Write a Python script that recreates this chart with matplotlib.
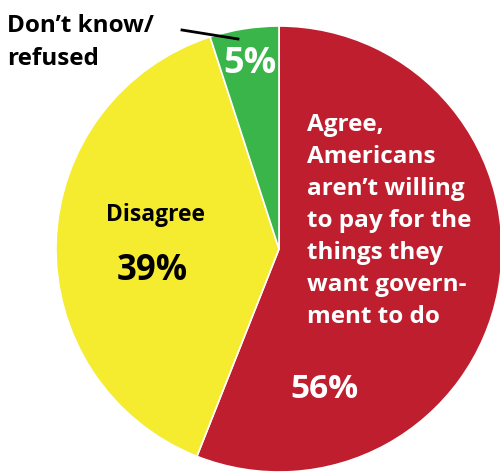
import matplotlib
matplotlib.use("Agg")
import matplotlib.pyplot as plt

# Survey responses
labels = ["Agree", "Disagree", "Don't know/refused"]
values = [56, 39, 5]
colors = ["#BE1E2D", "#F5EB2F", "#3AB54A"]

W, H = 500, 473
fig = plt.figure(figsize=(W / 100, H / 100), dpi=100)
ax = fig.add_axes([0, 0, 1, 1])
ax.set_xlim(0, W)
ax.set_ylim(0, H)
ax.set_aspect("equal")
ax.axis("off")

cx, cy, r = 279, H - 249, 223
ax.pie(values, colors=colors, startangle=90, counterclock=False,
       center=(cx, cy), radius=r,
       wedgeprops=dict(edgecolor="white", linewidth=1.2))
ax.set_xlim(0, W)
ax.set_ylim(0, H)

font = "Open Sans"

ax.text(307, H - 113,
        "Agree,\nAmericans\naren\u2019t willing\nto pay for the\nthings they\nwant govern-\nment to do",
        color="white", fontsize=17.5, fontweight="bold", family=font,
        ha="left", va="top", linespacing=1.44)
ax.text(290, H - 390, f"{values[0]}%", color="white", fontsize=24,
        fontweight="bold", family=font, ha="left", va="center")

ax.text(156, H - 215, labels[1], color="black", fontsize=16.5,
        fontweight="bold", family=font, ha="center", va="center")
ax.text(152, H - 271, f"{values[1]}%", color="black", fontsize=25,
        fontweight="bold", family=font, ha="center", va="center")

ax.text(250, H - 64, f"{values[2]}%", color="white", fontsize=26,
        fontweight="bold", family=font, ha="center", va="center")
ax.text(7, H - 14, "Don\u2019t know/\nrefused", color="black", fontsize=17.5,
        fontweight="bold", family=font, ha="left", va="top", linespacing=1.5)
ax.plot([182, 238], [H - 30, H - 39], color="black", lw=2)

fig.savefig("out.png", dpi=100)
